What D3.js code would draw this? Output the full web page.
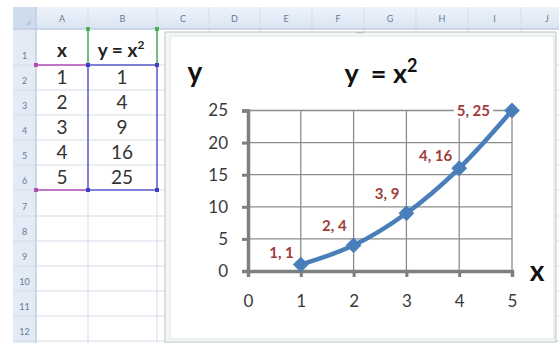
<!DOCTYPE html>
<html>
<head>
<style>
  body { margin: 0; background: #fff; }
  svg { display: block; font-family: Lato, "Open Sans", sans-serif; }
</style>
<script src="https://d3js.org/d3.v7.min.js"></script>
</head>
<body>
<svg id="chart" width="559" height="343"></svg>
<script>
// sheet + chart data
var xValues = [1, 2, 3, 4, 5];
var yValues = [1, 4, 9, 16, 25];
var xTicks = [0, 1, 2, 3, 4, 5];
var yTicks = [0, 5, 10, 15, 20, 25];
var colNames = ["A", "B", "C", "D", "E", "F", "G", "H", "I", "J"];
var rowNames = ["1", "2", "3", "4", "5", "6", "7", "8", "9", "10", "11", "12"];

var svg = d3.select("#chart");

// ---- spreadsheet grid ----
var colEdges = [36, 88, 157, 209, 260, 312, 364, 416, 468, 521, 573];
var rowEdges = [29, 65, 90, 115, 140, 165, 190, 216, 241, 266, 291, 316, 341];

var defs = svg.append("defs");
var hg = defs.append("linearGradient").attr("id", "hdr").attr("x1", 0).attr("y1", 0).attr("x2", 0).attr("y2", 1);
hg.append("stop").attr("offset", 0).attr("stop-color", "#eef3fa");
hg.append("stop").attr("offset", 1).attr("stop-color", "#d9e4f2");

// header bar + row number column
svg.append("rect").attr("x", 13).attr("y", 7).attr("width", 546).attr("height", 22).attr("fill", "url(#hdr)");
svg.append("rect").attr("x", 13).attr("y", 29).attr("width", 23).attr("height", 314).attr("fill", "#e3ebf6");
svg.append("rect").attr("x", 13).attr("y", 7).attr("width", 23).attr("height", 22).attr("fill", "#cfdcee");
svg.append("path").attr("d", "M31 25 L31 19 L25 25 Z").attr("fill", "#b9c9df");

// grid lines
svg.selectAll(".vline").data(colEdges).enter().append("line")
  .attr("x1", d => d).attr("x2", d => d).attr("y1", 7).attr("y2", 343)
  .attr("stroke", "#d5dde9").attr("stroke-width", 1);
svg.selectAll(".hline").data(rowEdges).enter().append("line")
  .attr("x1", 13).attr("x2", 559).attr("y1", d => d).attr("y2", d => d)
  .attr("stroke", "#d5dde9").attr("stroke-width", 1);
svg.append("line").attr("x1", 13).attr("x2", 559).attr("y1", 29).attr("y2", 29).attr("stroke", "#b6c6dc");
svg.append("line").attr("x1", 36).attr("x2", 36).attr("y1", 7).attr("y2", 343).attr("stroke", "#b6c6dc");

// column letters
svg.selectAll(".colname").data(colNames).enter().append("text")
  .attr("x", (d, i) => (colEdges[i] + colEdges[i + 1]) / 2)
  .attr("y", 22).attr("text-anchor", "middle")
  .attr("font-size", 9).attr("fill", "#6a7a92").text(d => d);

// row numbers
svg.selectAll(".rowname").data(rowNames).enter().append("text")
  .attr("x", 24.5)
  .attr("y", (d, i) => rowEdges[i + 1] - 6)
  .attr("text-anchor", "middle")
  .attr("font-size", 9).attr("fill", "#6a7a92").text(d => d);

// header cells
svg.append("text").attr("x", 62).attr("y", 57).attr("text-anchor", "middle")
  .attr("font-size", 19).attr("font-weight", "bold").attr("fill", "#222").text("x");
var bh = svg.append("text").attr("x", 121).attr("y", 57).attr("text-anchor", "middle")
  .attr("font-size", 19).attr("font-weight", "bold").attr("fill", "#222");
bh.append("tspan").text("y = x");
bh.append("tspan").attr("dy", -8).attr("font-size", 12).text("2");

// value cells
svg.selectAll(".acell").data(xValues).enter().append("text")
  .attr("x", 62).attr("y", (d, i) => rowEdges[i + 1] + 19)
  .attr("text-anchor", "middle").attr("font-size", 19).attr("fill", "#333").text(d => d);
svg.selectAll(".bcell").data(yValues).enter().append("text")
  .attr("x", 122).attr("y", (d, i) => rowEdges[i + 1] + 19)
  .attr("text-anchor", "middle").attr("font-size", 19).attr("fill", "#333").text(d => d);

// source range highlights
svg.append("path").attr("d", "M36 65 H88 M36 190 H88").attr("stroke", "#b450b4").attr("stroke-width", 1.5);
svg.append("path").attr("d", "M88 29 V65 M157 29 V65").attr("stroke", "#4caf50").attr("stroke-width", 1.5);
svg.append("rect").attr("x", 88).attr("y", 65).attr("width", 69).attr("height", 125)
  .attr("fill", "none").attr("stroke", "#5b5bcc").attr("stroke-width", 1.5);
[[36, 65, "#b450b4"], [36, 190, "#b450b4"], [88, 29, "#4caf50"], [157, 29, "#4caf50"],
 [88, 65, "#4040c0"], [157, 65, "#4040c0"], [88, 190, "#4040c0"], [157, 190, "#4040c0"]].forEach(function(h) {
  svg.append("rect").attr("x", h[0] - 2).attr("y", h[1] - 2).attr("width", 4).attr("height", 4).attr("fill", h[2]);
});

// ---- chart object ----
svg.append("rect").attr("x", 165).attr("y", 32).attr("width", 391).attr("height", 310)
  .attr("fill", "#f4f7f4").attr("stroke", "#b9c8bd").attr("stroke-width", 1);
svg.append("rect").attr("x", 170).attr("y", 36).attr("width", 384).attr("height", 303)
  .attr("fill", "#fff").attr("stroke", "#dfe6df");
svg.append("text").attr("x", 360).attr("y", 35).attr("text-anchor", "middle")
  .attr("font-size", 8).attr("fill", "#9aa59a").text("····");

var x = d3.scaleLinear().domain([0, 5]).range([248, 512]);
var y = d3.scaleLinear().domain([0, 25]).range([271, 110.5]);

// gridlines
svg.append("g").selectAll("line").data(xTicks.slice(1)).enter().append("line")
  .attr("x1", d => x(d)).attr("x2", d => x(d)).attr("y1", y(0)).attr("y2", y(25))
  .attr("stroke", "#8c8c8c").attr("stroke-width", 1.3);
svg.append("g").selectAll("line").data(yTicks.slice(1)).enter().append("line")
  .attr("x1", x(0)).attr("x2", x(5)).attr("y1", d => y(d)).attr("y2", d => y(d))
  .attr("stroke", "#8c8c8c").attr("stroke-width", 1.3);

// axes
var xAxis = svg.append("g").attr("transform", "translate(0," + y(0) + ")")
  .call(d3.axisBottom(x).tickValues(xTicks).tickSize(6).tickPadding(18).tickFormat(d3.format("d")));
var yAxis = svg.append("g").attr("transform", "translate(" + x(0) + ",0)")
  .call(d3.axisLeft(y).tickValues(yTicks).tickSize(6).tickPadding(14).tickFormat(d3.format("d")));
[xAxis, yAxis].forEach(function(a) {
  a.select(".domain").attr("stroke", "#7f7f7f").attr("stroke-width", 3.5);
  a.selectAll(".tick line").attr("stroke", "#7f7f7f").attr("stroke-width", 3);
  a.selectAll(".tick text").attr("fill", "#3a3a3a").attr("font-size", 17).attr("font-family", "Lato, sans-serif");
});

// series line
var pts = xValues.map((d, i) => [d, yValues[i]]);
svg.append("path").datum(pts)
  .attr("d", d3.line().x(d => x(d[0])).y(d => y(d[1])).curve(d3.curveCatmullRom))
  .attr("fill", "none").attr("stroke", "#4a7ebb").attr("stroke-width", 4.5).attr("stroke-linecap", "round");

svg.selectAll(".mark").data(pts).enter().append("path")
  .attr("d", d3.symbol().type(d3.symbolSquare).size(125))
  .attr("transform", d => "translate(" + x(d[0]) + "," + y(d[1]) + ") rotate(45)")
  .attr("fill", "#4a7ebb");

// data labels
var labels = svg.selectAll(".lbl").data(pts).enter().append("g")
  .attr("transform", function(d, i) {
    var last = i === pts.length - 1;
    return "translate(" + (x(d[0]) - (last ? 22 : 7)) + "," + (y(d[1]) + (last ? 5 : (i === 1 || i === 2 ? -14 : -7))) + ")";
  });
labels.append("text").attr("text-anchor", "end")
  .attr("font-size", 15).attr("font-weight", "bold").attr("fill", "#a03c3c")
  .text(d => d[0] + ", " + d[1]);
labels.insert("rect", "text").each(function() {
  var b = this.parentNode.querySelector("text").getBBox();
  d3.select(this).attr("x", b.x - 3).attr("y", b.y).attr("width", b.width + 6).attr("height", b.height).attr("fill", "#fff");
});

// titles
var title = svg.append("text").attr("x", 381).attr("y", 83).attr("text-anchor", "middle")
  .attr("font-size", 27).attr("font-weight", "bold").attr("fill", "#111");
title.append("tspan").text("y");
title.append("tspan").attr("dx", 12).text("= x");
title.append("tspan").attr("dy", -11).attr("font-size", 18).text("2");
svg.append("text").attr("x", 195).attr("y", 82).attr("text-anchor", "middle")
  .attr("font-size", 28).attr("font-weight", "bold").attr("fill", "#111").text("y");
svg.append("text").attr("x", 537).attr("y", 281).attr("text-anchor", "middle")
  .attr("font-size", 28).attr("font-weight", "bold").attr("fill", "#111").text("x");
</script>
</body>
</html>
